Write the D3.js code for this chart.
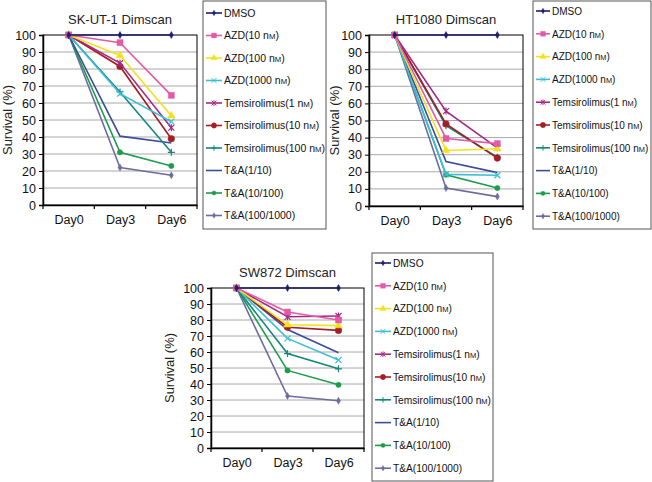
<!DOCTYPE html>
<html>
<head>
<meta charset="utf-8">
<script src="https://cdn.jsdelivr.net/npm/d3@7"></script>
<style>
  body { margin: 0; background: #fff; }
  svg { font-family: "Liberation Sans", Arial, sans-serif; }
</style>
</head>
<body>
<script>
var days = ['Day0', 'Day3', 'Day6'];
var yTicks = [0, 10, 20, 30, 40, 50, 60, 70, 80, 90, 100];
var seriesNames = ['DMSO', 'AZD(10 nM)', 'AZD(100 nM)', 'AZD(1000 nM)', 'Temsirolimus(1 nM)',
  'Temsirolimus(10 nM)', 'Temsirolimus(100 nM)', 'T&A(1/10)', 'T&A(10/100)', 'T&A(100/1000)'];

// survival (%) per series, Day0 / Day3 / Day6
var skut1 = [
  [100, 100, 100], [100, 95.5, 64.5], [100, 88, 52.5], [100, 65.5, 49],
  [100, 83.5, 45.5], [100, 81.5, 39], [100, 66.5, 31], [100, 40.5, 36.5],
  [100, 31, 23], [100, 22, 17.5]
];
var ht1080 = [
  [100, 100, 100], [100, 39.5, 36.5], [100, 32.5, 33.5], [100, 18.5, 18],
  [100, 55.5, 34], [100, 48, 28], [100, 47, 28.5], [100, 26, 19.5],
  [100, 18.3, 10.5], [100, 10.5, 5.5]
];
var sw872 = [
  [100, 100, 100], [100, 85, 80], [100, 77, 76.5], [100, 68.5, 55],
  [100, 82, 82.5], [100, 75.5, 73.5], [100, 59, 49.5], [100, 74, 59.5],
  [100, 48.5, 39.5], [100, 32.5, 29.5]
];

var colors = ['#1e1e6e', '#e35aa6', '#f2e21e', '#3ebed6', '#a52a84', '#a31f26',
  '#14877f', '#3a4d9e', '#1c9c4c', '#6d6ca0'];
var markers = ['diamond', 'square', 'triangle', 'x', 'star', 'circle', 'plus', 'none', 'dot', 'diamond'];

var svg = d3.select('body').append('svg').attr('width', 652).attr('height', 482);

function markerPath(type) {
  if (type === 'diamond') return d3.symbol().type(d3.symbolDiamond).size(14)();
  if (type === 'square') return d3.symbol().type(d3.symbolSquare).size(36)();
  if (type === 'triangle') return d3.symbol().type(d3.symbolTriangle).size(26)();
  if (type === 'circle') return d3.symbol().type(d3.symbolCircle).size(34)();
  if (type === 'dot') return d3.symbol().type(d3.symbolCircle).size(22)();
  if (type === 'x') return 'M-3,-3L3,3M3,-3L-3,3';
  if (type === 'star') return 'M-3,-3L3,3M3,-3L-3,3M0,-3.5L0,3.5';
  if (type === 'plus') return 'M-3.5,0L3.5,0M0,-3.5L0,3.5';
  return null;
}

function addMarker(g, type, color, x, y, scale) {
  var p = markerPath(type);
  if (!p) return;
  var filled = ['diamond', 'square', 'triangle', 'circle', 'dot'].indexOf(type) >= 0;
  g.append('path')
    .attr('d', p)
    .attr('transform', 'translate(' + x + ',' + y + ') scale(' + (scale || 1) + ')')
    .attr('fill', filled ? color : 'none')
    .attr('stroke', color)
    .attr('stroke-width', filled ? 0.5 : 1.2);
}

function legendLabel(sel, name, fs) {
  var m = name.match(/^(.*\()(\d+) nM\)$/);
  if (!m) { sel.text(name); return; }
  sel.append('tspan').text(m[1] + m[2] + ' n');
  sel.append('tspan').attr('font-size', (fs * 0.74) + 'px').text('M');
  sel.append('tspan').text(')');
}

function drawPanel(cfg) {
  var x = d3.scalePoint().domain(days).range([cfg.left, cfg.right]).padding(0.5);
  var y = d3.scaleLinear().domain([0, 100]).range([cfg.bottom, cfg.top]);
  var g = svg.append('g');

  // gridlines
  g.selectAll('.grid').data(yTicks.slice(1, -1)).enter().append('line')
    .attr('x1', cfg.left).attr('x2', cfg.right)
    .attr('y1', function(d) { return y(d); }).attr('y2', function(d) { return y(d); })
    .attr('stroke', '#a8a8a8').attr('stroke-width', 1);

  // frame
  g.append('rect')
    .attr('x', cfg.left).attr('y', cfg.top)
    .attr('width', cfg.right - cfg.left).attr('height', cfg.bottom - cfg.top)
    .attr('fill', 'none').attr('stroke', '#000').attr('stroke-width', 1);

  var yAxis = g.append('g').attr('transform', 'translate(' + cfg.left + ',0)')
    .call(d3.axisLeft(y).tickValues(yTicks).tickSize(4).tickPadding(3));
  yAxis.select('.domain').attr('stroke-width', 1.5);
  yAxis.selectAll('text').attr('font-size', '12.5px').attr('fill', '#111');

  var xAxis = g.append('g').attr('transform', 'translate(0,' + cfg.bottom + ')')
    .call(d3.axisBottom(x).tickSize(0).tickPadding(10));
  xAxis.select('.domain').attr('stroke-width', 1.5);
  xAxis.selectAll('text').attr('font-size', '12.5px').attr('fill', '#111');

  // category separators below the axis
  var step = x.step();
  g.selectAll('.sep').data(d3.range(days.length + 1)).enter().append('line')
    .attr('x1', function(i) { return cfg.left + i * step; })
    .attr('x2', function(i) { return cfg.left + i * step; })
    .attr('y1', cfg.bottom).attr('y2', cfg.bottom + 4)
    .attr('stroke', '#000').attr('stroke-width', 1.2);

  // title and axis label
  g.append('text').attr('x', (cfg.left + cfg.right) / 2).attr('y', cfg.top - 11)
    .attr('text-anchor', 'middle').attr('font-size', '13px').attr('fill', '#222')
    .text(cfg.title);
  g.append('text')
    .attr('transform', 'translate(' + cfg.yLabelX + ',' + ((cfg.top + cfg.bottom) / 2) + ') rotate(-90)')
    .attr('text-anchor', 'middle').attr('font-size', '13px').attr('fill', '#222')
    .text('Survival (%)');

  var line = d3.line()
    .x(function(d, i) { return x(days[i]); })
    .y(function(d) { return y(d); });

  // draw in reverse order so DMSO ends on top
  for (var s = cfg.data.length - 1; s >= 0; s--) {
    g.append('path').datum(cfg.data[s])
      .attr('d', line).attr('fill', 'none')
      .attr('stroke', colors[s]).attr('stroke-width', 1.6);
    cfg.data[s].forEach(function(v, i) {
      addMarker(g, markers[s], colors[s], x(days[i]), y(v), 1);
    });
  }

  // legend
  var lg = svg.append('g');
  lg.append('rect')
    .attr('x', cfg.lx).attr('y', cfg.ly)
    .attr('width', cfg.lw).attr('height', cfg.lh)
    .attr('fill', '#fff').attr('stroke', '#555').attr('stroke-width', 1);
  seriesNames.forEach(function(name, i) {
    var cy = cfg.ly + cfg.lFirst + i * cfg.lStep;
    lg.append('line')
      .attr('x1', cfg.lx + 3).attr('x2', cfg.lx + cfg.lText - 2)
      .attr('y1', cy).attr('y2', cy)
      .attr('stroke', colors[i]).attr('stroke-width', 1.6);
    addMarker(lg, markers[i], colors[i], cfg.lx + 3 + (cfg.lText - 5) / 2, cy, 0.8);
    var t = lg.append('text')
      .attr('x', cfg.lx + cfg.lText).attr('y', cy + 3.8)
      .attr('font-size', cfg.lFont + 'px').attr('fill', '#111');
    legendLabel(t, name, cfg.lFont);
  });
}

drawPanel({ title: 'SK-UT-1 Dimscan', data: skut1, left: 43, right: 197, top: 35, bottom: 205,
  yLabelX: 12, lx: 203, ly: 1, lw: 123, lh: 228, lFirst: 12, lStep: 22.5, lText: 21, lFont: 10.5 });
drawPanel({ title: 'HT1080 Dimscan', data: ht1080, left: 369, right: 523, top: 35, bottom: 206,
  yLabelX: 339, lx: 533, ly: 1, lw: 118, lh: 228, lFirst: 10, lStep: 22.8, lText: 19, lFont: 10 });
drawPanel({ title: 'SW872 Dimscan', data: sw872, left: 211, right: 364, top: 288, bottom: 448,
  yLabelX: 174, lx: 372, ly: 253, lw: 121, lh: 228, lFirst: 10, lStep: 22.8, lText: 21, lFont: 10.2 });
</script>
</body>
</html>
